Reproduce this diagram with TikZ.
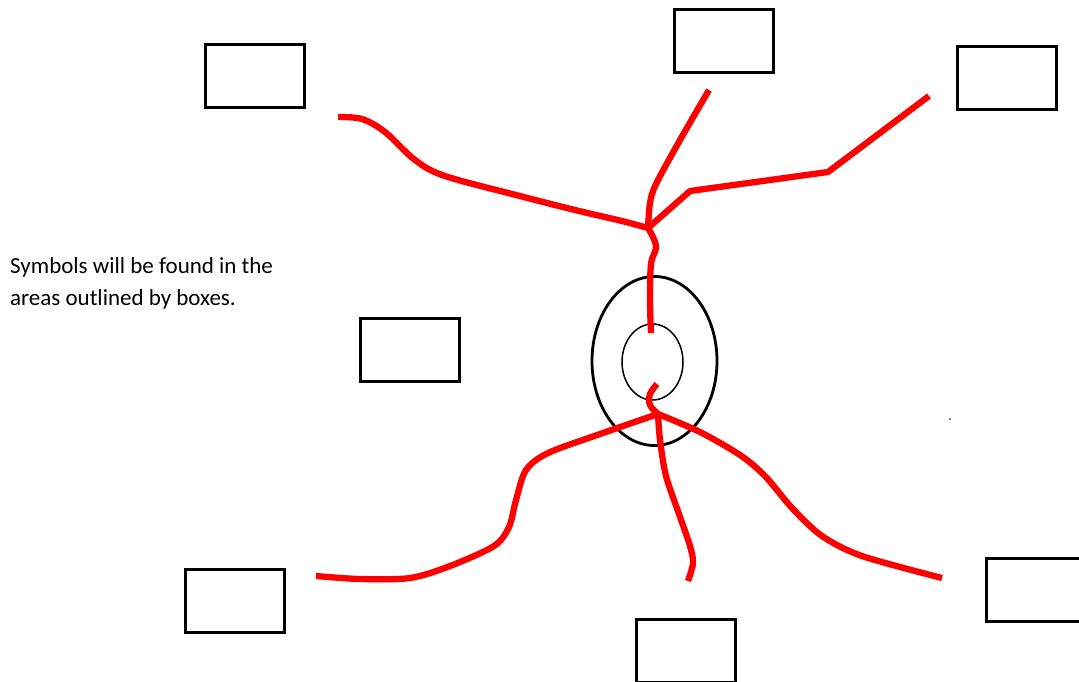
\documentclass[tikz,border=0pt]{standalone}
\usepackage{fontspec}
\setmainfont{Carlito}
\usetikzlibrary{shapes.geometric}
\begin{document}
\begin{tikzpicture}[x=1pt,y=-1pt,
  box/.style={draw=black,line width=3pt,rectangle,minimum width=99pt,minimum height=63pt,inner sep=0pt},
  redline/.style={draw=red,line width=6.3pt,line cap=butt,line join=round},
  ring/.style={draw=black}]
\useasboundingbox (0,0) rectangle (1079,681);
% boxes
\node[box] (b1) at (254.5,75.5) {};
\node[box] (b2) at (724,40.5) {};
\node[box] (b3) at (1006.5,78) {};
\node[box] (b4) at (409.5,350) {};
\node[box] (b5) at (235,600.5) {};
\node[box] (b6) at (685.5,651) {};
\node[box] (b7) at (1036,589.5) {};
% ellipses
\node[ring,line width=2.8pt,ellipse,minimum width=125pt,minimum height=169pt,inner sep=0pt] (outer) at (654.5,361) {};
\node[ring,line width=1.5pt,ellipse,minimum width=61pt,minimum height=76pt,inner sep=0pt] (inner) at (652.5,362) {};
% text
\node[anchor=north west,align=left,font=\fontsize{23}{32}\selectfont,inner sep=0pt] (txt) at (10,257) {Symbols will be found in the\\areas outlined by boxes.};
% tiny dot
\fill (950,419) circle (0.8);
% end coordinates
\coordinate (e1) at (338,117);
\coordinate (e2) at (709,90);
\coordinate (e3) at (929,96);
\coordinate (jt) at (648,228);
\coordinate (et) at (651,333);
\coordinate (hb) at (657,384);
\coordinate (jb) at (658,414);
\coordinate (e4) at (316,576);
\coordinate (e5) at (688,581);
\coordinate (e6) at (942,578);
% top curves
\draw[redline] plot[smooth,tension=0.55] coordinates {(e1) (362,119) (385,132) (415,160) (445,176) (520,196) (575,210) (622,221) (jt)};
\draw[redline] plot[smooth,tension=0.5] coordinates {(e2) (680,140) (656,184) (650,203) (jt)};
\draw[redline] (e3) -- (828,172) -- (690,191) -- (jt);
\draw[redline] plot[smooth,tension=0.6] coordinates {(jt) (656,246) (651,264) (650,300) (et)};
% bottom curves
\draw[redline] plot[smooth,tension=0.6] coordinates {(hb) (650,394) (650,405) (jb)};
\draw[redline] plot[smooth,tension=0.5] coordinates {(jb) (600,434) (548,453) (526,470) (516,500) (509,527) (494,546) (450,566) (410,578) (360,579) (e4)};
\draw[redline] plot[smooth,tension=0.5] coordinates {(jb) (660,440) (666,476) (679,514) (690,546) (693,563) (e5)};
\draw[redline] plot[smooth,tension=0.5] coordinates {(jb) (700,432) (740,455) (765,476) (792,508) (822,536) (862,556) (e6)};
\end{tikzpicture}
\end{document}
